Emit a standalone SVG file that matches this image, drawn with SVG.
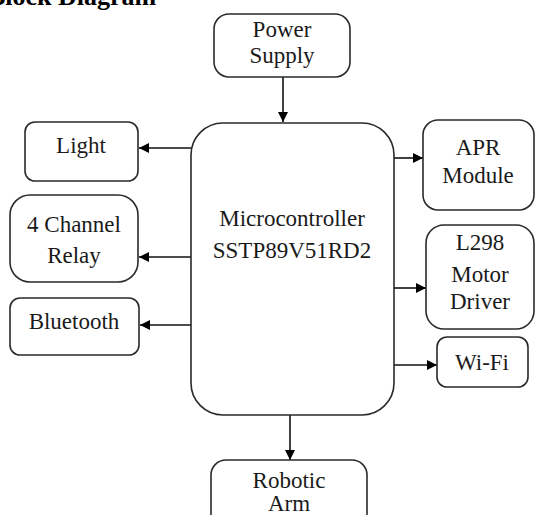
<svg xmlns="http://www.w3.org/2000/svg" width="536" height="515" viewBox="0 0 536 515">
<style>
.box{fill:#fff;stroke:#2a2a2a;stroke-width:1.6}
.t{font-family:"Liberation Serif","Times New Roman",serif;font-size:23px;fill:#1a1a1a;text-anchor:middle}
.title{font-family:"Liberation Serif","Times New Roman",serif;font-size:26px;font-weight:bold;fill:#000}
.c{stroke:#111;stroke-width:1.6;fill:none;marker-end:url(#ah)}
</style>
<defs>
<marker id="ah" viewBox="0 0 10 10" refX="10" refY="5" markerWidth="10" markerHeight="10" markerUnits="userSpaceOnUse" orient="auto">
<path d="M0,0 L10,5 L0,10 z" fill="#000"/>
</marker>
</defs>
<rect width="536" height="515" fill="#fff"/>
<text class="title" x="-12" y="5">Block Diagram</text>
<g id="connectors">
<line class="c" x1="283" y1="77" x2="283" y2="122"/>
<line class="c" x1="191" y1="148" x2="139" y2="148"/>
<line class="c" x1="191" y1="257" x2="139" y2="257"/>
<line class="c" x1="191" y1="325" x2="140" y2="325"/>
<line class="c" x1="394" y1="158" x2="423" y2="158"/>
<line class="c" x1="394" y1="288" x2="426" y2="288"/>
<line class="c" x1="394" y1="365" x2="437" y2="365"/>
<line class="c" x1="290" y1="415" x2="290" y2="460"/>
</g>
<g id="power">
<rect class="box" x="214" y="14" width="136" height="63" rx="15"/>
<text class="t" x="282" y="37">Power</text>
<text class="t" x="282" y="63">Supply</text>
</g>
<g id="mcu">
<rect class="box" x="191" y="123" width="203" height="292" rx="32"/>
<text class="t" x="292" y="226">Microcontroller</text>
<text class="t" x="292" y="258">SSTP89V51RD2</text>
</g>
<g id="light">
<rect class="box" x="25" y="122" width="113" height="59" rx="10"/>
<text class="t" x="81" y="153">Light</text>
</g>
<g id="relay">
<rect class="box" x="10" y="195" width="128" height="87" rx="20"/>
<text class="t" x="74" y="232">4 Channel</text>
<text class="t" x="74" y="263">Relay</text>
</g>
<g id="bluetooth">
<rect class="box" x="10" y="298" width="129" height="57" rx="10"/>
<text class="t" x="74" y="329">Bluetooth</text>
</g>
<g id="apr">
<rect class="box" x="423" y="120" width="111" height="90" rx="15"/>
<text class="t" x="478" y="155">APR</text>
<text class="t" x="478" y="183">Module</text>
</g>
<g id="l298">
<rect class="box" x="426" y="225" width="108" height="104" rx="18"/>
<text class="t" x="480" y="250">L298</text>
<text class="t" x="480" y="282">Motor</text>
<text class="t" x="480" y="309">Driver</text>
</g>
<g id="wifi">
<rect class="box" x="437" y="337" width="91" height="50" rx="10"/>
<text class="t" x="482" y="370">Wi-Fi</text>
</g>
<g id="robotic">
<rect class="box" x="211" y="460" width="156" height="70" rx="15"/>
<text class="t" x="289" y="488">Robotic</text>
<text class="t" x="289" y="511">Arm</text>
</g>
</svg>
